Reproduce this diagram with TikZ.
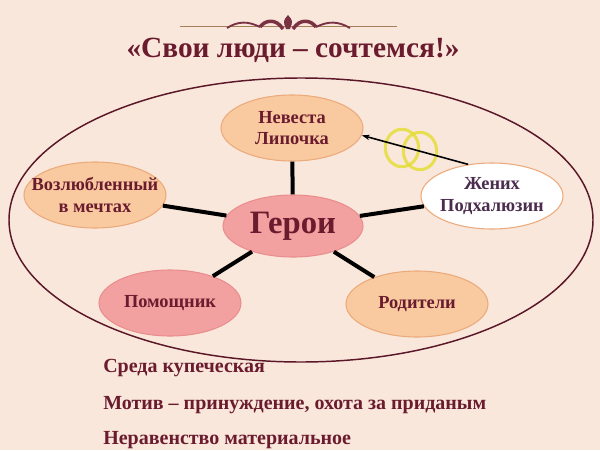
\documentclass[tikz,border=0pt]{standalone}
\usepackage{fontspec}
\setmainfont{Liberation Serif}
\usetikzlibrary{shapes.geometric,arrows.meta}
\definecolor{bgpeach}{HTML}{FAE7DB}
\definecolor{maroon}{HTML}{6A1B2E}
\definecolor{plum}{HTML}{4B2C4F}
\definecolor{peachfill}{HTML}{F9C9A0}
\definecolor{peachline}{HTML}{EBAA7C}
\definecolor{pinkfill}{HTML}{F3A0A0}
\definecolor{pinkline}{HTML}{E98E8E}
\definecolor{ringcol}{HTML}{E4DE3A}
\tikzset{
  role/.style = {ellipse, draw = peachline, fill = peachfill, line width = 0.8pt, inner sep = 0pt,
    minimum width = 106.5pt, minimum height = 49.5pt, align = center, text = maroon,
    font = \bfseries\fontsize{13.8}{16}\selectfont},
  pinkrole/.style = {role, fill = pinkfill, draw = pinkline},
  link/.style = {line width = 3pt, black},
  note/.style = {anchor = base west, inner sep = 0pt, text = maroon, font = \bfseries\fontsize{15}{17}\selectfont}
}
\begin{document}
\begin{tikzpicture}[x = 0.75pt, y = -0.75pt]
\fill[bgpeach] (0,0) rectangle (600,450);
\useasboundingbox (0,0) rectangle (600,450);
% ornament
\draw[color = brown!60!gray, line width = 0.6pt] (180,26) -- (397,26);
\fill[maroon!90] (288,15) .. controls (293,21) .. (290,29) -- (286,29) .. controls (283,21) .. (288,15);
\draw[maroon!90, line width = 2.6pt] (283,29) .. controls (276,18) and (265,20) .. (260,27);
\draw[maroon!90, line width = 2.6pt] (293,29) .. controls (300,18) and (311,20) .. (316,27);
\draw[maroon!90, line width = 1.4pt] (260,27) .. controls (248,21) and (238,21) .. (227,28);
\draw[maroon!90, line width = 1.4pt] (316,27) .. controls (328,21) and (338,21) .. (350,28);
% title
\node (title) at (293,50) {\color{maroon}\bfseries\fontsize{22}{26}\selectfont «Свои люди – сочтемся!»};
% outer ellipse
\draw[maroon!85!black, line width = 1.1pt] (301,220) ellipse [x radius = 219pt, y radius = 106.5pt];
% roles
\node[pinkrole, minimum width = 105pt, minimum height = 46.5pt, font = \bfseries\fontsize{24.5}{28}\selectfont] (geroi) at (293,226) {Герои};
\node[role] (nevesta) at (292,128) {Невеста\\Липочка};
\node[role, inner xsep = -20pt] (vozl) at (95,195) {Возлюбленный\\в мечтах};
\node[role, inner xsep = -12pt, fill = white, text = plum] (zhenih) at (492,196) {Жених\\Подхалюзин};
\node[pinkrole] (pomosh) at (170,303) {Помощник};
\node[role] (roditeli) at (417,304) {Родители};
\foreach \n in {nevesta,vozl,zhenih,pomosh,roditeli} \draw[link] (geroi) -- (\n);
% rings
\draw[ringcol, line width = 2.3pt, opacity = 0.85] (402,148) ellipse [x radius = 12.5pt, y radius = 14pt];
\draw[ringcol, line width = 2.3pt, opacity = 0.85] (420,151) ellipse [x radius = 12.5pt, y radius = 14pt];
\draw[-{Stealth[length = 6pt, width = 4pt]}, line width = 1.2pt] (zhenih.127) -- (nevesta.-6);
% notes
\node[note] (sreda) at (103,372) {Среда купеческая};
\node[note] (motiv) at (103,409) {Мотив – принуждение, охота за приданым};
\node[note] (neravenstvo) at (103,444) {Неравенство материальное};
\end{tikzpicture}
\end{document}
